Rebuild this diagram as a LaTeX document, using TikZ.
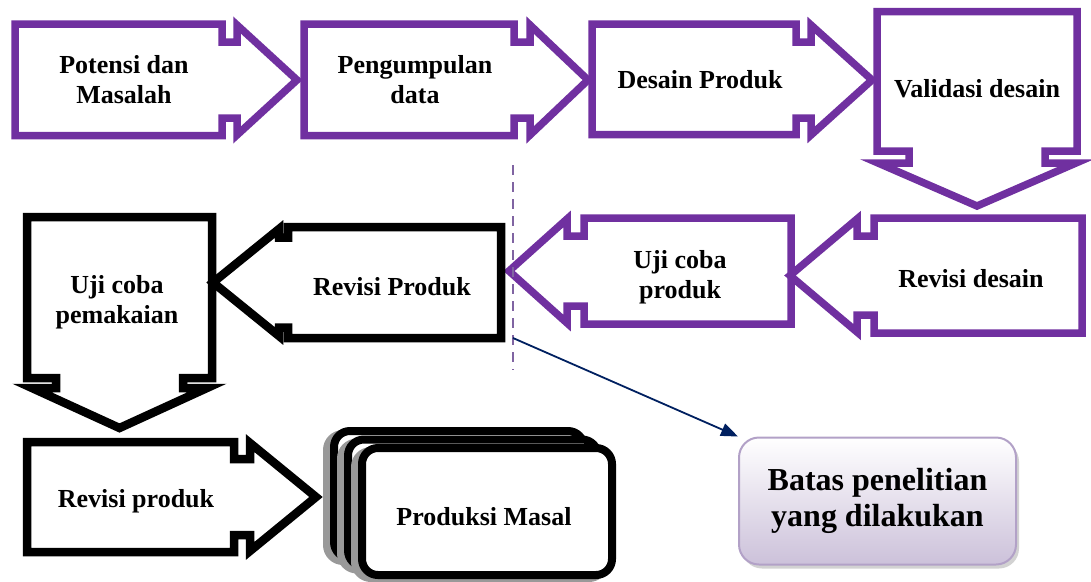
\documentclass[tikz,border=0pt]{standalone}
\usepackage{fontspec}
\setmainfont{Liberation Serif}
\usetikzlibrary{arrows.meta,shadows}
\definecolor{callpurple}{RGB}{112,48,160}
\definecolor{cutpurple}{RGB}{128,100,162}
\definecolor{arrownavy}{RGB}{0,32,96}
\definecolor{batasedge}{RGB}{178,161,199}
\definecolor{batasfill}{RGB}{204,193,218}

\begin{document}
\begin{tikzpicture}[x=1pt,y=-1pt,
    purplecall/.style={draw=callpurple, line width=7.5pt},
    blackcall/.style={draw=black, line width=8.5pt},
    steptext/.style={font=\fontsize{26}{30}\selectfont\bfseries, align=center},
    stackbox/.style={draw=black, fill=white, line width=8pt, rounded corners=16pt},
    stackshadow/.style={draw=black!40, fill=black!40, line width=8pt, rounded corners=16pt},
    batasbox/.style={draw=batasedge, line width=2pt, rounded corners=20pt,
        top color=white, bottom color=batasfill,
        drop shadow={shadow xshift=3pt, shadow yshift=-4pt, fill=black!35},
        minimum width=277pt, minimum height=127pt, align=center,
        font=\fontsize{32}{36}\selectfont\bfseries},
    navyarrow/.style={draw=arrownavy, line width=1.8pt, -{Triangle[length=17pt,width=13pt]}}]
    \useasboundingbox (0,0) rectangle (1091,581);

    \draw[purplecall] (15,24) -- (222,24) -- (222,42) -- (237,42) -- (237,25) -- (297,80) -- (237,135) -- (237,118) -- (222,118) -- (222,135.5) -- (15,135.5) -- cycle;
    \node[steptext] (potensi) at (124,80) {Potensi dan\\Masalah};
    \draw[purplecall] (304,24) -- (514,24) -- (514,42) -- (530,42) -- (530,25) -- (588,80) -- (530,135) -- (530,118) -- (514,118) -- (514,135.5) -- (304,135.5) -- cycle;
    \node[steptext] (pengumpulan) at (415,80) {Pengumpulan\\data};
    \draw[purplecall] (592,24) -- (796,24) -- (796,42) -- (811,42) -- (811,25) -- (872,80) -- (811,135) -- (811,118) -- (796,118) -- (796,134.5) -- (592,134.5) -- cycle;
    \node[steptext] (desain) at (700,80) {Desain Produk};
    \draw[purplecall] (877,11.5) -- (1077,11.5) -- (1077,151) -- (1045,151) -- (1045,163) -- (1076,163) -- (977,206) -- (878,163) -- (909,163) -- (909,151) -- (877,151) -- cycle;
    \node[steptext] (validasi) at (977,89) {Validasi desain};

    \draw[purplecall] (1082,218) -- (874,218) -- (874,236) -- (857,236) -- (857,219) -- (790,275.5) -- (857,332) -- (857,315) -- (874,315) -- (874,333) -- (1082,333) -- cycle;
    \node[steptext] (revdesain) at (971,279) {Revisi desain};
    \draw[purplecall] (791,218) -- (584,218) -- (584,236) -- (567,236) -- (567,219) -- (509,271) -- (567,323) -- (567,306) -- (584,306) -- (584,324) -- (791,324) -- cycle;
    \node[steptext] (ujiproduk) at (680,277.5) {Uji coba\\produk};
    \draw[blackcall] (501,227) -- (288,227) -- (288,237.5) -- (279,237.5) -- (279,229) -- (213,282.5) -- (279,336) -- (279,327.5) -- (288,327.5) -- (288,338) -- (501,338) -- cycle;
    \node[steptext] (revProduk) at (392,287) {Revisi Produk};
    \draw[blackcall] (27,217) -- (212,217) -- (212,378) -- (183,378) -- (183,388) -- (207,388) -- (119.5,428) -- (32,388) -- (56,388) -- (56,378) -- (27,378) -- cycle;
    \node[steptext] (ujipakai) at (117,302) {Uji coba\\pemakaian};

    \draw[blackcall] (27,442) -- (234,442) -- (234,459) -- (250,459) -- (250,443) -- (316,497) -- (250,551) -- (250,535) -- (234,535) -- (234,552) -- (27,552) -- cycle;
    \node[steptext] (revproduk) at (136,501) {Revisi produk};
    \draw[stackshadow] (327,434) rectangle (577,561);
    \draw[stackbox] (334,431) rectangle (584,558);
    \draw[stackshadow] (341,442.5) rectangle (591,569.5);
    \draw[stackbox] (348,439.5) rectangle (598,566.5);
    \draw[stackshadow] (355,451) rectangle (605,578);
    \draw[stackbox] (362,448) rectangle (612,575);
    \node[steptext] (produksi) at (484,516.5) {Produksi Masal};

    \node[batasbox] (batas) at (877.5,501) {Batas penelitian\\yang dilakukan};

    \coordinate (cuttop) at (513,165);
    \coordinate (cutbot) at (513,370);
    \coordinate (cutmid) at (513,338);
    \draw[cutpurple, line width=2.2pt, dash pattern=on 10pt off 7pt] (cuttop) -- (cutbot);
    \draw[navyarrow] (cutmid) -- (batas.north west);
\end{tikzpicture}
\end{document}
